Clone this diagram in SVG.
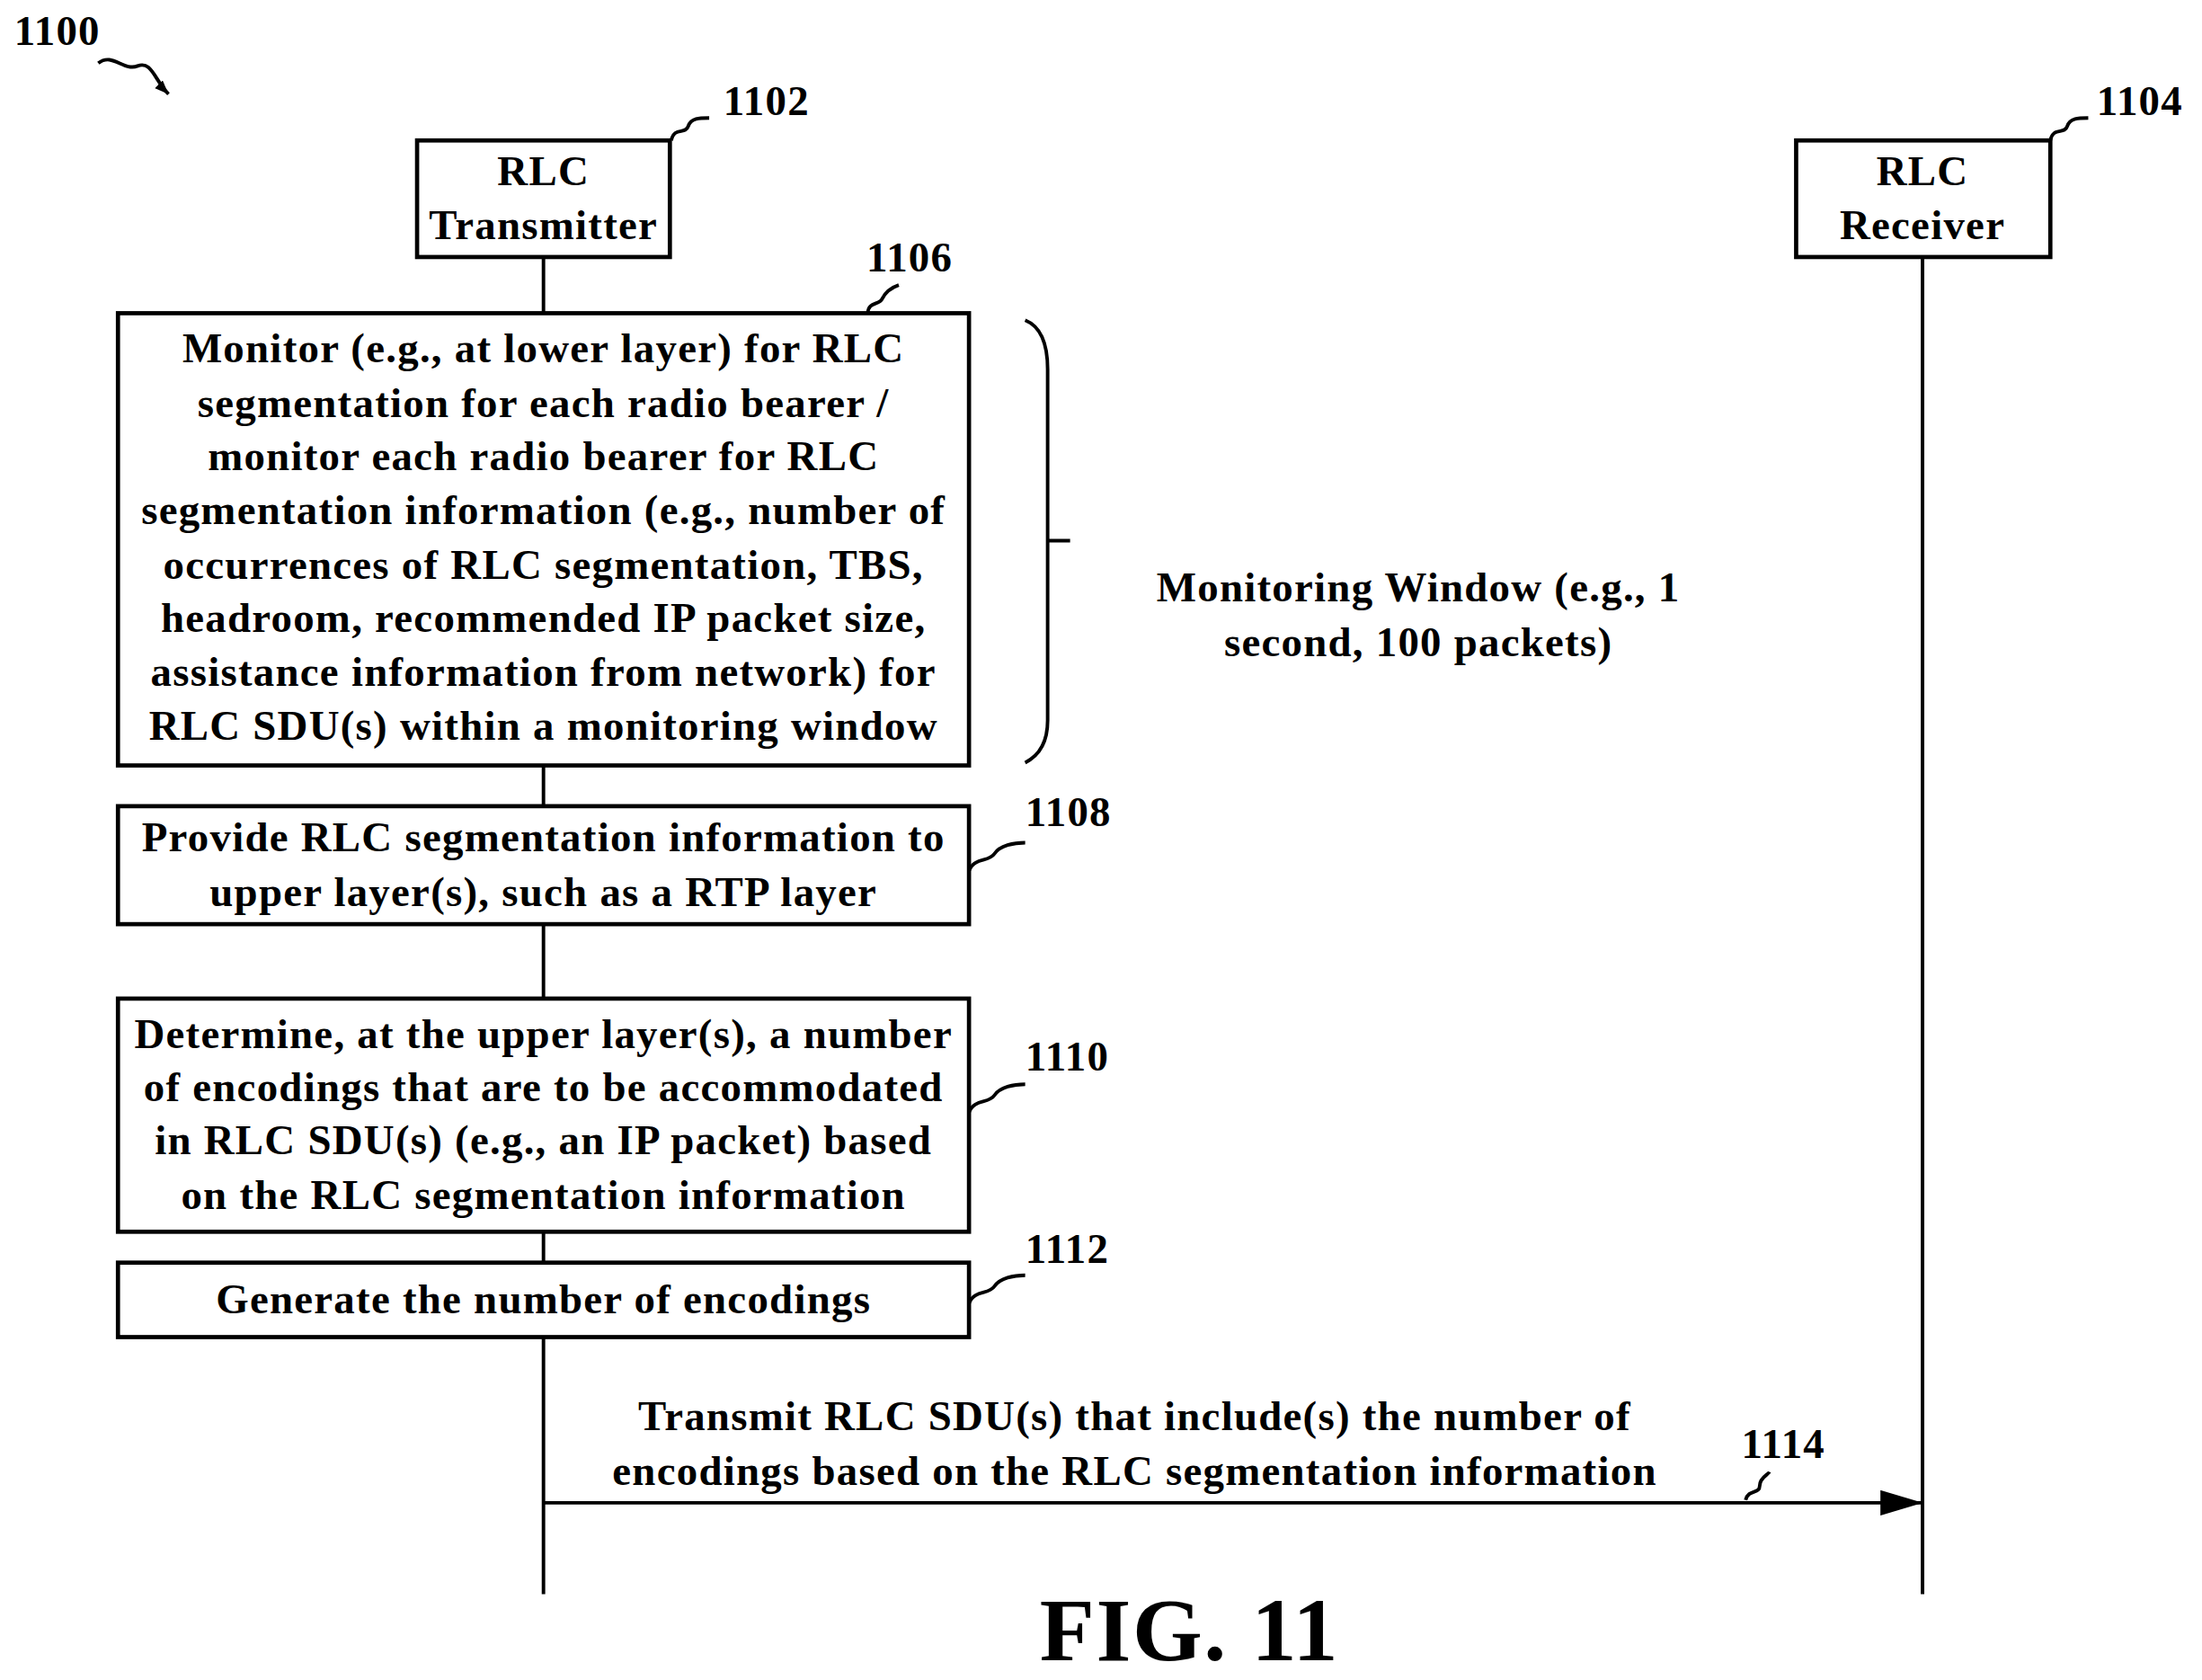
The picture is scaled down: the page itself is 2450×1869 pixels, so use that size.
<svg xmlns="http://www.w3.org/2000/svg" width="2450" height="1869" viewBox="0 0 2450 1869">
<style>
text{font-family:"Liberation Serif","Times New Roman",serif;font-weight:bold;font-size:30px;letter-spacing:0.8px;fill:#000}
.c{text-anchor:middle}
.b{fill:#fff;stroke:#000;stroke-width:3}
.l{fill:none;stroke:#000;stroke-width:2.5}
</style>
<defs><marker id="ah" markerWidth="10" markerHeight="8" refX="10" refY="4" orient="auto" markerUnits="userSpaceOnUse"><path d="M0,0L10,4L0,8z" fill="#000"/></marker>
<marker id="ah2" markerWidth="30" markerHeight="18" refX="30" refY="9" orient="auto" markerUnits="userSpaceOnUse"><path d="M0,0L30,9L0,18z" fill="#000"/></marker></defs>
<rect width="2450" height="1869" fill="#fff"/>
<g transform="scale(1.5625)">
<g id="connectors">
<line class="l" x1="387" y1="183" x2="387" y2="1135"/>
<line class="l" x1="1369" y1="183" x2="1369" y2="1135"/>
<line class="l" x1="387" y1="1070" x2="1369" y2="1070" marker-end="url(#ah2)"/>
<text class="c" x="808" y="1018">Transmit RLC SDU(s) that include(s) the number of</text>
<text class="c" x="808" y="1057">encodings based on the RLC segmentation information</text>
<text x="1240" y="1038">1114</text>
<path class="l" d="M1243,1068c2,-8 10,-4 10,-10s6,-8 7,-10"/>
</g>
<g id="n1100"><text x="10" y="32">1100</text>
<path class="l" d="M70,45c10,-8 18,6 28,2s12,10 22,20" marker-end="url(#ah)"/></g>
<g id="n1102"><rect class="b" x="297" y="100" width="180" height="83"/>
<text class="c" x="387" y="132">RLC</text><text class="c" x="387" y="170">Transmitter</text>
<text x="515" y="82">1102</text><path class="l" d="M478,100c2,-10 10,-4 12,-10s8,-6 15,-6"/></g>
<g id="n1104"><rect class="b" x="1279" y="100" width="181" height="83"/>
<text class="c" x="1369" y="132">RLC</text><text class="c" x="1369" y="170">Receiver</text>
<text x="1493" y="82">1104</text><path class="l" d="M1460,100c2,-10 10,-4 12,-10s8,-6 15,-6"/></g>
<g id="n1106"><rect class="b" x="84" y="223" width="606" height="322"/>
<text class="c" x="387" y="258">Monitor (e.g., at lower layer) for RLC</text>
<text class="c" x="387" y="297">segmentation for each radio bearer /</text>
<text class="c" x="387" y="335">monitor each radio bearer for RLC</text>
<text class="c" x="387" y="373">segmentation information (e.g., number of</text>
<text class="c" x="387" y="412">occurrences of RLC segmentation, TBS,</text>
<text class="c" x="387" y="450">headroom, recommended IP packet size,</text>
<text class="c" x="387" y="488">assistance information from network) for</text>
<text class="c" x="387" y="527">RLC SDU(s) within a monitoring window</text>
<text x="617" y="193">1106</text><path class="l" d="M618,223c0,-8 8,-6 10,-10s6,-8 12,-10"/></g>
<g id="brace"><path class="l" d="M730,228c10,4 16,15 16,35v250c0,15 -6,25 -16,30M746,385h16"/>
<text class="c" x="1010" y="428">Monitoring Window (e.g., 1</text>
<text class="c" x="1010" y="467">second, 100 packets)</text></g>
<g id="n1108"><rect class="b" x="84" y="574" width="606" height="84"/>
<text class="c" x="387" y="606">Provide RLC segmentation information to</text>
<text class="c" x="387" y="645">upper layer(s), such as a RTP layer</text>
<text x="730" y="588">1108</text><path class="l" d="M690,620c4,-10 14,-6 18,-12s14,-8 22,-8"/></g>
<g id="n1110"><rect class="b" x="84" y="711" width="606" height="166"/>
<text class="c" x="387" y="746">Determine, at the upper layer(s), a number</text>
<text class="c" x="387" y="784">of encodings that are to be accommodated</text>
<text class="c" x="387" y="822">in RLC SDU(s) (e.g., an IP packet) based</text>
<text class="c" x="387" y="861">on the RLC segmentation information</text>
<text x="730" y="762">1110</text><path class="l" d="M690,792c4,-10 14,-6 18,-12s14,-8 22,-8"/></g>
<g id="n1112"><rect class="b" x="84" y="899" width="606" height="53"/>
<text class="c" x="387" y="935">Generate the number of encodings</text>
<text x="730" y="899">1112</text><path class="l" d="M690,928c4,-10 14,-6 18,-12s14,-8 22,-8"/></g>
<text class="c" x="847" y="1182" style="font-size:64px;letter-spacing:1px">FIG. 11</text>
</g>
</svg>
